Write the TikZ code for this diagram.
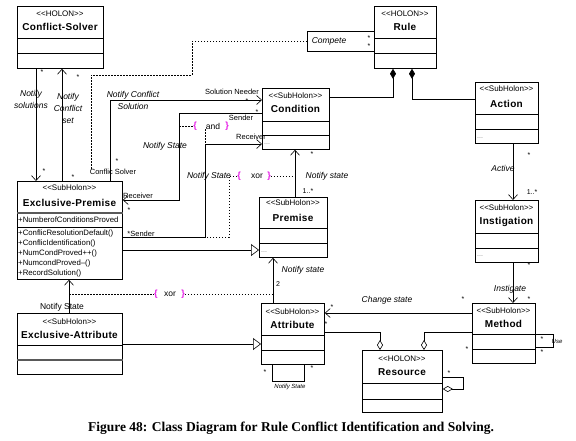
\documentclass[tikz,border=0pt]{standalone}
\usepackage{fontspec}
\setmainfont{Liberation Sans}
\newfontfamily\namefont[LetterSpace=3]{Liberation Sans}
\newfontfamily\capfont{Liberation Serif}
\usetikzlibrary{arrows.meta}
\definecolor{cmagenta}{rgb}{0.9, 0.1, 0.9}
\newcommand{\stereo}[1]{<\kern0pt<#1>\kern0pt>}

\begin{document}
\begin{tikzpicture}[x=1pt, y=-1pt,
    classbox/.style={draw, line width=0.8pt, anchor=north west, inner sep=0pt, fill=white},
    stereotext/.style={font=\fontsize{8}{9}\selectfont, inner sep=0pt},
    nametext/.style={font=\namefont\bfseries\fontsize{10}{12}\selectfont, inner sep=0pt},
    membertext/.style={font=\fontsize{7.8}{9}\selectfont, inner sep=0pt, anchor=west},
    dots/.style={font=\fontsize{7}{8}\selectfont, text=black!50, inner sep=0pt, anchor=west},
    msg/.style={font=\itshape\fontsize{8.5}{12}\selectfont, inner sep=0pt, align=center},
    role/.style={font=\fontsize{7.5}{9}\selectfont, inner sep=0pt},
    mult/.style={font=\fontsize{7}{8}\selectfont, inner sep=0pt},
    brace/.style={font=\bfseries\fontsize{9}{10}\selectfont, text=cmagenta, inner sep=0pt},
    assoc/.style={line width=0.6pt},
    navig/.style={assoc, -{Straight Barb[length=5pt, width=9pt]}},
    inherit/.style={assoc, -{Triangle[open, length=8pt, width=12pt, fill=white]}},
    compos/.style={assoc, {Diamond[length=10pt, width=6pt]}-},
    aggreg/.style={assoc, -{Diamond[open, length=10pt, width=6pt, fill=white]}},
    constr/.style={line width=0.5pt, dash pattern=on 1.5pt off 1.5pt}]
  \fill [white] (0, 0) rectangle (576, 440);
  \useasboundingbox (0, 0) rectangle (576, 440);

  % classes
  \node (cs) at (17, 6) [classbox, minimum width=86, minimum height=62] {};
  \node (cs-st) at (60, 14) [stereotext] {\stereo{HOLON}};
  \node (cs-nm) at (60, 27) [nametext] {Conflict-Solver};
  \draw (cs.west |- 0,38) -- (cs.east |- 0,38);
  \draw (cs.west |- 0,53) -- (cs.east |- 0,53);

  \node (rule) at (374, 6) [classbox, minimum width=62, minimum height=62] {};
  \node (rule-st) at (405, 14) [stereotext] {\stereo{HOLON}};
  \node (rule-nm) at (405, 27) [nametext] {Rule};
  \draw (rule.west |- 0,38) -- (rule.east |- 0,38);
  \draw (rule.west |- 0,53) -- (rule.east |- 0,53);

  \node (compete) at (307, 31) [draw, line width=0.6pt, anchor=north west, inner sep=0pt, minimum width=67, minimum height=20] {};
  \node (compete-nm) at (329, 41) [msg] {Compete};

  \node (cond) at (262, 88) [classbox, minimum width=67, minimum height=61] {};
  \node (cond-st) at (295.5, 96) [stereotext] {\stereo{SubHolon}};
  \node (cond-nm) at (295.5, 109) [nametext] {Condition};
  \draw (cond.west |- 0,121) -- (cond.east |- 0,121);
  \draw (cond.west |- 0,135) -- (cond.east |- 0,135);
  \node (cond-op) at (264, 144) [dots] {...};

  \node (act) at (475, 82) [classbox, minimum width=63, minimum height=61] {};
  \node (act-st) at (506.5, 89) [stereotext] {\stereo{SubHolon}};
  \node (act-nm) at (506.5, 104) [nametext] {Action};
  \draw (act.west |- 0,114) -- (act.east |- 0,114);
  \draw (act.west |- 0,129) -- (act.east |- 0,129);
  \node (act-op) at (477, 138) [dots] {...};

  \node (ep) at (17, 181) [classbox, minimum width=105, minimum height=98] {};
  \node (ep-st) at (69.5, 188) [stereotext] {\stereo{SubHolon}};
  \node (ep-nm) at (69.5, 203) [nametext] {Exclusive-Premise};
  \draw [line width=1.2pt, black!65] (ep.west |- 0,213) -- (ep.east |- 0,213);
  \node (ep-at) at (18, 220) [membertext] {+NumberofConditionsProved};
  \draw (ep.west |- 0,227) -- (ep.east |- 0,227);
  \node (ep-op1) at (18, 233) [membertext] {+ConflicResolutionDefault()};
  \node (ep-op2) at (18, 243) [membertext] {+ConflicIdentification()};
  \node (ep-op3) at (18, 253) [membertext] {+NumCondProved++()};
  \node (ep-op4) at (18, 263) [membertext] {+NumcondProved--()};
  \node (ep-op5) at (18, 273) [membertext] {+RecordSolution()};

  \node (prem) at (259, 197) [classbox, minimum width=68, minimum height=60] {};
  \node (prem-st) at (293, 203) [stereotext] {\stereo{SubHolon}};
  \node (prem-nm) at (293, 218) [nametext] {Premise};
  \draw (prem.west |- 0,228) -- (prem.east |- 0,228);
  \draw (prem.west |- 0,243) -- (prem.east |- 0,243);
  \node (prem-op) at (261, 252) [dots] {...};

  \node (inst) at (475, 200) [classbox, minimum width=63, minimum height=62] {};
  \node (inst-st) at (506.5, 208) [stereotext] {\stereo{SubHolon}};
  \node (inst-nm) at (506.5, 222) [nametext] {Instigation};
  \draw (inst.west |- 0,233) -- (inst.east |- 0,233);
  \draw (inst.west |- 0,248) -- (inst.east |- 0,248);
  \node (inst-op) at (477, 256) [dots] {...};

  \node (ea) at (17, 313) [classbox, minimum width=105, minimum height=61] {};
  \node (ea-st) at (69.5, 322) [stereotext] {\stereo{SubHolon}};
  \node (ea-nm) at (69.5, 335) [nametext] {Exclusive-Attribute};
  \draw (ea.west |- 0,345) -- (ea.east |- 0,345);
  \draw [line width=1.2pt, black!65] (ea.west |- 0,360) -- (ea.east |- 0,360);

  \node (attr) at (261, 303) [classbox, minimum width=63, minimum height=61] {};
  \node (attr-st) at (292.5, 312) [stereotext] {\stereo{SubHolon}};
  \node (attr-nm) at (292.5, 325) [nametext] {Attribute};
  \draw (attr.west |- 0,335) -- (attr.east |- 0,335);
  \draw (attr.west |- 0,350) -- (attr.east |- 0,350);

  \node (meth) at (472, 303) [classbox, minimum width=63, minimum height=60] {};
  \node (meth-st) at (503.5, 311) [stereotext] {\stereo{SubHolon}};
  \node (meth-nm) at (503.5, 324) [nametext] {Method};
  \draw (meth.west |- 0,334) -- (meth.east |- 0,334);
  \draw (meth.west |- 0,349) -- (meth.east |- 0,349);

  \node (res) at (362, 350) [classbox, minimum width=80, minimum height=62] {};
  \node (res-st) at (402, 359) [stereotext] {\stereo{HOLON}};
  \node (res-nm) at (402, 372) [nametext] {Resource};
  \draw (res.west |- 0,383) -- (res.east |- 0,383);
  \draw (res.west |- 0,399) -- (res.east |- 0,399);

  % associations
  \draw [navig] (36,0 |- cs.south) -- (36,0 |- ep.north);
  \draw [navig] (62,0 |- ep.north) -- (62,0 |- cs.south);
  \draw [navig] (110,0 |- ep.north) |- (cond.west |- 0,100);
  \draw [navig] (cond.west |- 0,113) -| (179,200) -- (ep.east |- 0,200);
  \draw [navig] (ep.east |- 0,237) -| (205,144) -- (cond.west |- 0,144);
  \draw [navig] (295,0 |- prem.north) -- (295,0 |- cond.south);
  \draw [navig] (273,0 |- attr.north) -- (273,0 |- prem.south);
  \draw [navig] (69,0 |- ea.north) -- (69,0 |- ep.south);
  \draw [navig] (513,0 |- act.south) -- (513,0 |- inst.north);
  \draw [navig] (513,0 |- inst.south) -- (513,0 |- meth.north);
  \draw [navig] (meth.west |- 0,313) -- (attr.east |- 0,313);
  \draw [inherit] (ep.east |- 0,250) -- (prem.west |- 0,250);
  \draw [inherit] (ea.east |- 0,344) -- (attr.west |- 0,344);
  \draw [compos] (393,0 |- rule.south) |- (cond.east |- 0,97);
  \draw [compos] (412,0 |- rule.south) |- (act.west |- 0,99);
  \draw [aggreg] (attr.east |- 0,332) -| (380,0 |- res.north);
  \draw [aggreg] (meth.west |- 0,332) -| (424,0 |- res.north);
  \draw [aggreg] (res.east |- 0,377) -| (463,389) -- (res.east |- 0,389);
  \draw [assoc] (meth.east |- 0,334) -| (553,347) -- (meth.east |- 0,347);
  \draw [assoc] (272,0 |- attr.south) |- (304,381) -- (304,0 |- attr.south);
  \draw [constr] (compete.west) -| (192,75) -| (91,170);

  % constraints
  \node (and-l) at (195, 126) [brace] {\{};
  \node (and-t) at (213, 126) [role, font=\fontsize{8.5}{10}\selectfont] {and};
  \node (and-r) at (227, 126) [brace] {\}};
  \draw [constr] (179,126) -- (and-l.west);
  \draw [constr] (205,0 |- and-t.south) -- (205,144);

  \node (xor1-l) at (239, 176) [brace] {\{};
  \node (xor1-t) at (257, 176) [role, font=\fontsize{8.5}{10}\selectfont] {xor};
  \node (xor1-r) at (269, 176) [brace] {\}};
  \draw [constr] (xor1-r.east) -- (295,176);
  \draw [constr] (xor1-l.west) -| (229,237) -- (205,237);

  \node (xor2-l) at (156, 294) [brace] {\{};
  \node (xor2-t) at (170, 294) [role, font=\fontsize{8.5}{10}\selectfont] {xor};
  \node (xor2-r) at (183, 294) [brace] {\}};
  \draw [constr] (69,294) -- (xor2-l.west);
  \draw [constr] (xor2-r.east) -- (273,294);

  % labels
  \node (l-sol) at (31, 99) [msg] {Notify\\solutions};
  \node (l-set) at (68, 108) [msg] {Notify\\Conflict\\set};
  \node (l-ncs) at (133, 100) [msg] {Notify Conflict\\Solution};
  \node (l-csv) at (113, 172) [role] {Conflic Solver};
  \node (l-need) at (232, 92) [role] {Solution Needer};
  \node (l-snd1) at (241, 118) [role] {Sender};
  \node (l-rcv1) at (138, 196) [role] {Receiver};
  \node (l-ns1) at (165, 146) [msg] {Notify State};
  \node (l-rcv2) at (251, 137) [role] {Receiver};
  \node (l-snd2) at (141, 234) [role] {*Sender};
  \node (l-ns2) at (209, 176) [msg] {Notify State};
  \node (l-ns3) at (327, 176) [msg] {Notify state};
  \node (l-m1) at (308, 191) [mult] {1..*};
  \node (l-ns4) at (303, 270) [msg] {Notify state};
  \node (l-m2) at (278, 284) [mult] {2};
  \node (l-ns5) at (62, 307) [role, font=\fontsize{8.5}{10}\selectfont] {Notify State};
  \node (l-act) at (503, 168) [msg] {Active};
  \node (l-m3) at (532, 192) [mult] {1..*};
  \node (l-ins) at (510, 289) [msg] {Instigate};
  \node (l-chg) at (387, 300) [msg] {Change state};
  \node (l-ns6) at (290, 387) [msg, font=\itshape\fontsize{6}{7}\selectfont] {Notify State};
  \node (l-use) at (557, 341) [msg, font=\itshape\fontsize{6}{7}\selectfont] {Use};

  % multiplicities
  \node at (42, 72) [mult] {*};
  \node at (44, 171) [mult] {*};
  \node at (78, 77) [mult] {*};
  \node at (73, 177) [mult] {*};
  \node at (117, 161) [mult] {*};
  \node at (247, 101) [mult] {*};
  \node at (257, 112) [mult] {*};
  \node at (129, 210) [mult] {*};
  \node at (312, 154) [mult] {*};
  \node at (369, 38) [mult] {*};
  \node at (369, 46) [mult] {*};
  \node at (529, 155) [mult] {*};
  \node at (529, 265) [mult] {*};
  \node at (529, 299) [mult] {*};
  \node at (463, 299) [mult] {*};
  \node at (332, 307) [mult] {*};
  \node at (326, 324) [mult] {*};
  \node at (467, 349) [mult] {*};
  \node at (265, 372) [mult] {*};
  \node at (312, 368) [mult] {*};
  \node at (542, 339) [mult] {*};
  \node at (542, 352) [mult] {*};
  \node at (449, 373) [mult] {*};

  \node (caption) at (291, 428) [font=\capfont\bfseries\fontsize{13.5}{15}\selectfont] {Figure 48: Class Diagram for Rule Conflict Identification and Solving.};
\end{tikzpicture}
\end{document}
